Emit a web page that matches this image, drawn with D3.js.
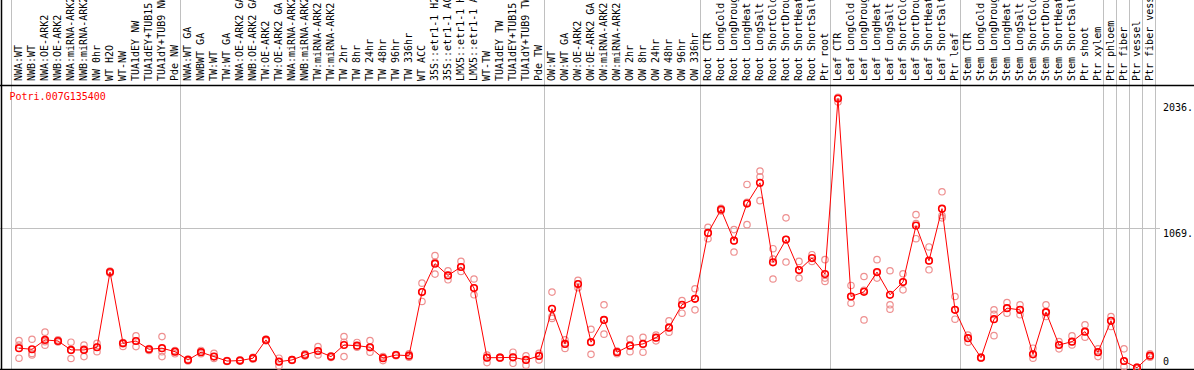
<!DOCTYPE html>
<html>
<head>
<meta charset="utf-8">
<script src="https://cdn.jsdelivr.net/npm/d3@7"></script>
<style>
  body { margin: 0; background: #fff; }
  svg { display: block; }
  text { font-family: "DejaVu Sans Mono", monospace; font-size: 10px; }
</style>
</head>
<body>
<svg id="chart" width="1194" height="370"></svg>
<script>
const geneName = 'Potri.007G135400';

const categories = [
  'NWA:WT', 'NWB:WT', 'NWA:OE-ARK2', 'NWB:OE-ARK2', 'NWA:miRNA-ARK2', 'NWB:miRNA-ARK2',
  'NW 0hr', 'WT H2O', 'WT-NW', 'TUA1dEY NW', 'TUA1dEY+TUB15 NW', 'TUA1dY+TUB9 NW', 'Pde NW',
  'NWA:WT GA', 'NWBWT GA', 'TW:WT', 'TW:WT GA', 'NWA:OE-ARK2 GA', 'NWB:OE-ARK2 GA',
  'TW:OE-ARK2', 'TW:OE-ARK2 GA', 'NWA:miRNA-ARK2 GA', 'NWB:miRNA-ARK2 GA', 'TW:miRNA-ARK2',
  'TW:miRNA-ARK2 GA', 'TW 2hr', 'TW 8hr', 'TW 24hr', 'TW 48hr', 'TW 96hr', 'TW 336hr',
  'WT ACC', '35S::etr1-1 H2O', '35S::etr1-1 ACC', 'LMX5::etr1-1 H2O', 'LMX5::etr1-1 ACC',
  'WT-TW', 'TUA1dEY TW', 'TUA1dEY+TUB15 TW', 'TUA1dY+TUB9 TW', 'Pde TW',
  'OW:WT', 'OW:WT GA', 'OW:OE-ARK2', 'OW:OE-ARK2 GA', 'OW:miRNA-ARK2', 'OW:miRNA-ARK2 GA',
  'OW 2hr', 'OW 8hr', 'OW 24hr', 'OW 48hr', 'OW 96hr', 'OW 336hr',
  'Root CTR', 'Root LongCold', 'Root LongDrought', 'Root LongHeat', 'Root LongSalt',
  'Root ShortCold', 'Root ShortDrought', 'Root ShortHeat', 'Root ShortSalt', 'Ptr root',
  'Leaf CTR', 'Leaf LongCold', 'Leaf LongDrought', 'Leaf LongHeat', 'Leaf LongSalt',
  'Leaf ShortCold', 'Leaf ShortDrought', 'Leaf ShortHeat', 'Leaf ShortSalt', 'Ptr leaf',
  'Stem CTR', 'Stem LongCold', 'Stem LongDrought', 'Stem LongHeat', 'Stem LongSalt',
  'Stem ShortCold', 'Stem ShortDrought', 'Stem ShortHeat', 'Stem ShortSalt', 'Ptr shoot',
  'Ptr xylem', 'Ptr phloem', 'Ptr fiber', 'Ptr vessel', 'Ptr fiber vessel'
];

// mean expression per sample
const means = [
  167, 159, 229, 221, 154, 154, 174, 737, 204, 221, 159, 167, 141,
  79, 137, 104, 71, 74, 92, 229, 66, 79, 116, 146, 104, 191, 186, 174, 92, 116, 111,
  587, 800, 712, 775, 617, 96, 96, 99, 79, 109,
  462, 199, 647, 212, 379, 137, 186, 199, 246, 321, 492, 537,
  1030, 1205, 972, 1250, 1405, 810, 980, 752, 842, 722,
  2036, 554, 589, 737, 567, 662, 1085, 822, 1212, 454,
  242, 96, 384, 467, 454, 121, 437, 191, 216, 291,
  137, 372, 71, 21, 111
];

// replicate values per sample
const replicates = [
  [224, 191, 92], [234, 128, 116], [287, 216, 190], [230, 218, 213], [212, 150, 90], [191, 160, 104],
  [204, 175, 141], [745, 737, 728], [210, 200, 180], [259, 221, 179], [165, 159, 150], [254, 140, 104],
  [150, 141, 125],
  [85, 79, 72], [150, 137, 125], [129, 104, 90], [75, 71, 68], [80, 74, 70], [98, 92, 85],
  [235, 229, 222], [92, 66, 34], [82, 79, 75], [125, 116, 108], [179, 146, 116], [110, 104, 98],
  [254, 212, 104], [210, 186, 175], [224, 170, 137], [104, 92, 74], [120, 116, 110], [125, 111, 100],
  [654, 590, 517], [860, 810, 722], [747, 712, 679], [817, 775, 742], [685, 617, 567],
  [115, 96, 59], [100, 96, 92], [137, 99, 54], [110, 79, 40], [129, 109, 79],
  [587, 404, 390], [229, 199, 165], [675, 647, 620], [309, 212, 121], [492, 379, 272],
  [145, 137, 125], [236, 186, 141], [249, 199, 137], [265, 246, 222], [372, 321, 287],
  [524, 492, 429], [612, 537, 454],
  [1072, 1030, 987], [1215, 1205, 1195], [1055, 972, 887], [1393, 1260, 1092], [1493, 1450, 1272],
  [912, 835, 685], [1143, 980, 812], [817, 752, 692], [867, 842, 817], [830, 692, 667],
  [2045, 2036, 2010], [637, 554, 504], [704, 600, 379], [830, 734, 692], [747, 492, 459],
  [724, 662, 604], [1167, 1100, 987], [925, 822, 754], [1338, 1160, 1143], [554, 454, 384],
  [265, 242, 212], [100, 96, 92], [454, 420, 261], [509, 467, 429], [492, 454, 417],
  [167, 121, 92], [492, 437, 404], [216, 191, 162], [259, 216, 191], [342, 291, 249],
  [162, 137, 104], [404, 372, 329], [162, 71, 29], [25, 21, 18], [125, 111, 100]
];

// sample index where each group starts (plus the end)
const groupBreaks = [0, 13, 41, 53, 63, 73, 84, 85, 86, 87, 88];

const yTicks = [2036, 1069, 0];
const yTickLabels = ['2036.', '1069.', '0'];

const width = 1194, height = 370;
const headerBottom = 85;
const plotLeft = 11, plotRight = 1155;

const svg = d3.select('#chart');

const x = d3.scaleBand()
    .domain(d3.range(categories.length))
    .range([plotLeft, plotRight])
    .paddingInner(0).paddingOuter(0);

const y = d3.scaleLinear()
    .domain([0, d3.max(yTicks) * 1.05])
    .range([370.5, headerBottom]);

const px = i => x(i) + 8;

// grid: horizontal mid line
svg.append('line')
    .attr('x1', 0).attr('x2', 1160)
    .attr('y1', Math.round(y(yTicks[1])) + 0.5).attr('y2', Math.round(y(yTicks[1])) + 0.5)
    .attr('stroke', '#c0c0c0');

// group separators
const bandPos = i => i === categories.length ? plotRight : x(i);
svg.selectAll('line.sep')
    .data(groupBreaks)
    .enter()
        .append('line')
        .classed('sep', true)
        .attr('x1', d => Math.round(bandPos(d)) + 0.5)
        .attr('x2', d => Math.round(bandPos(d)) + 0.5)
        .attr('y1', 0).attr('y2', height)
        .attr('stroke', '#c0c0c0');

// frame
svg.append('line').attr('x1', 1.5).attr('x2', 1.5).attr('y1', 0).attr('y2', height)
    .attr('stroke', '#000').attr('stroke-width', 1.5);
svg.append('line').attr('x1', 0).attr('x2', width).attr('y1', headerBottom + 0.5).attr('y2', headerBottom + 0.5)
    .attr('stroke', '#000').attr('stroke-width', 1.5);
svg.append('line').attr('x1', 0).attr('x2', width).attr('y1', 369.5).attr('y2', 369.5)
    .attr('stroke', '#000').attr('stroke-width', 1.5);

// sample labels (rotated)
svg.selectAll('text.cat')
    .data(categories)
    .enter()
        .append('text')
        .classed('cat', true)
        .attr('transform', (d, i) => `translate(${px(i) + 3},81) rotate(-90)`)
        .attr('fill', '#000')
        .text(d => d);

// y tick labels
const labelOffsets = [12.5, 9, -5.5];
svg.selectAll('text.ytick')
    .data(yTicks)
    .enter()
        .append('text')
        .classed('ytick', true)
        .attr('x', 1163)
        .attr('y', (d, i) => y(d) + labelOffsets[i])
        .attr('fill', '#000')
        .text((d, i) => yTickLabels[i]);

// gene name
svg.append('text')
    .attr('x', 9.5).attr('y', 100)
    .attr('fill', '#ff0000')
    .text(geneName);

// replicate points
const repPoints = [];
replicates.forEach((reps, i) => reps.forEach(v => repPoints.push({i: i, v: v})));
svg.selectAll('circle.rep')
    .data(repPoints)
    .enter()
        .append('circle')
        .classed('rep', true)
        .attr('cx', d => px(d.i))
        .attr('cy', d => y(d.v))
        .attr('r', 3.2)
        .attr('fill', 'none')
        .attr('stroke', '#ee9090')
        .attr('stroke-width', 1.2);

// mean line
const line = d3.line()
    .x((d, i) => px(i))
    .y(d => y(d));
svg.append('path')
    .datum(means)
    .attr('d', line)
    .attr('fill', 'none')
    .attr('stroke', '#ff0000')
    .attr('stroke-width', 1);

// mean points
svg.selectAll('circle.mean')
    .data(means)
    .enter()
        .append('circle')
        .classed('mean', true)
        .attr('cx', (d, i) => px(i))
        .attr('cy', d => y(d))
        .attr('r', 3.3)
        .attr('fill', 'none')
        .attr('stroke', '#ff0000')
        .attr('stroke-width', 1.6);
</script>
</body>
</html>
